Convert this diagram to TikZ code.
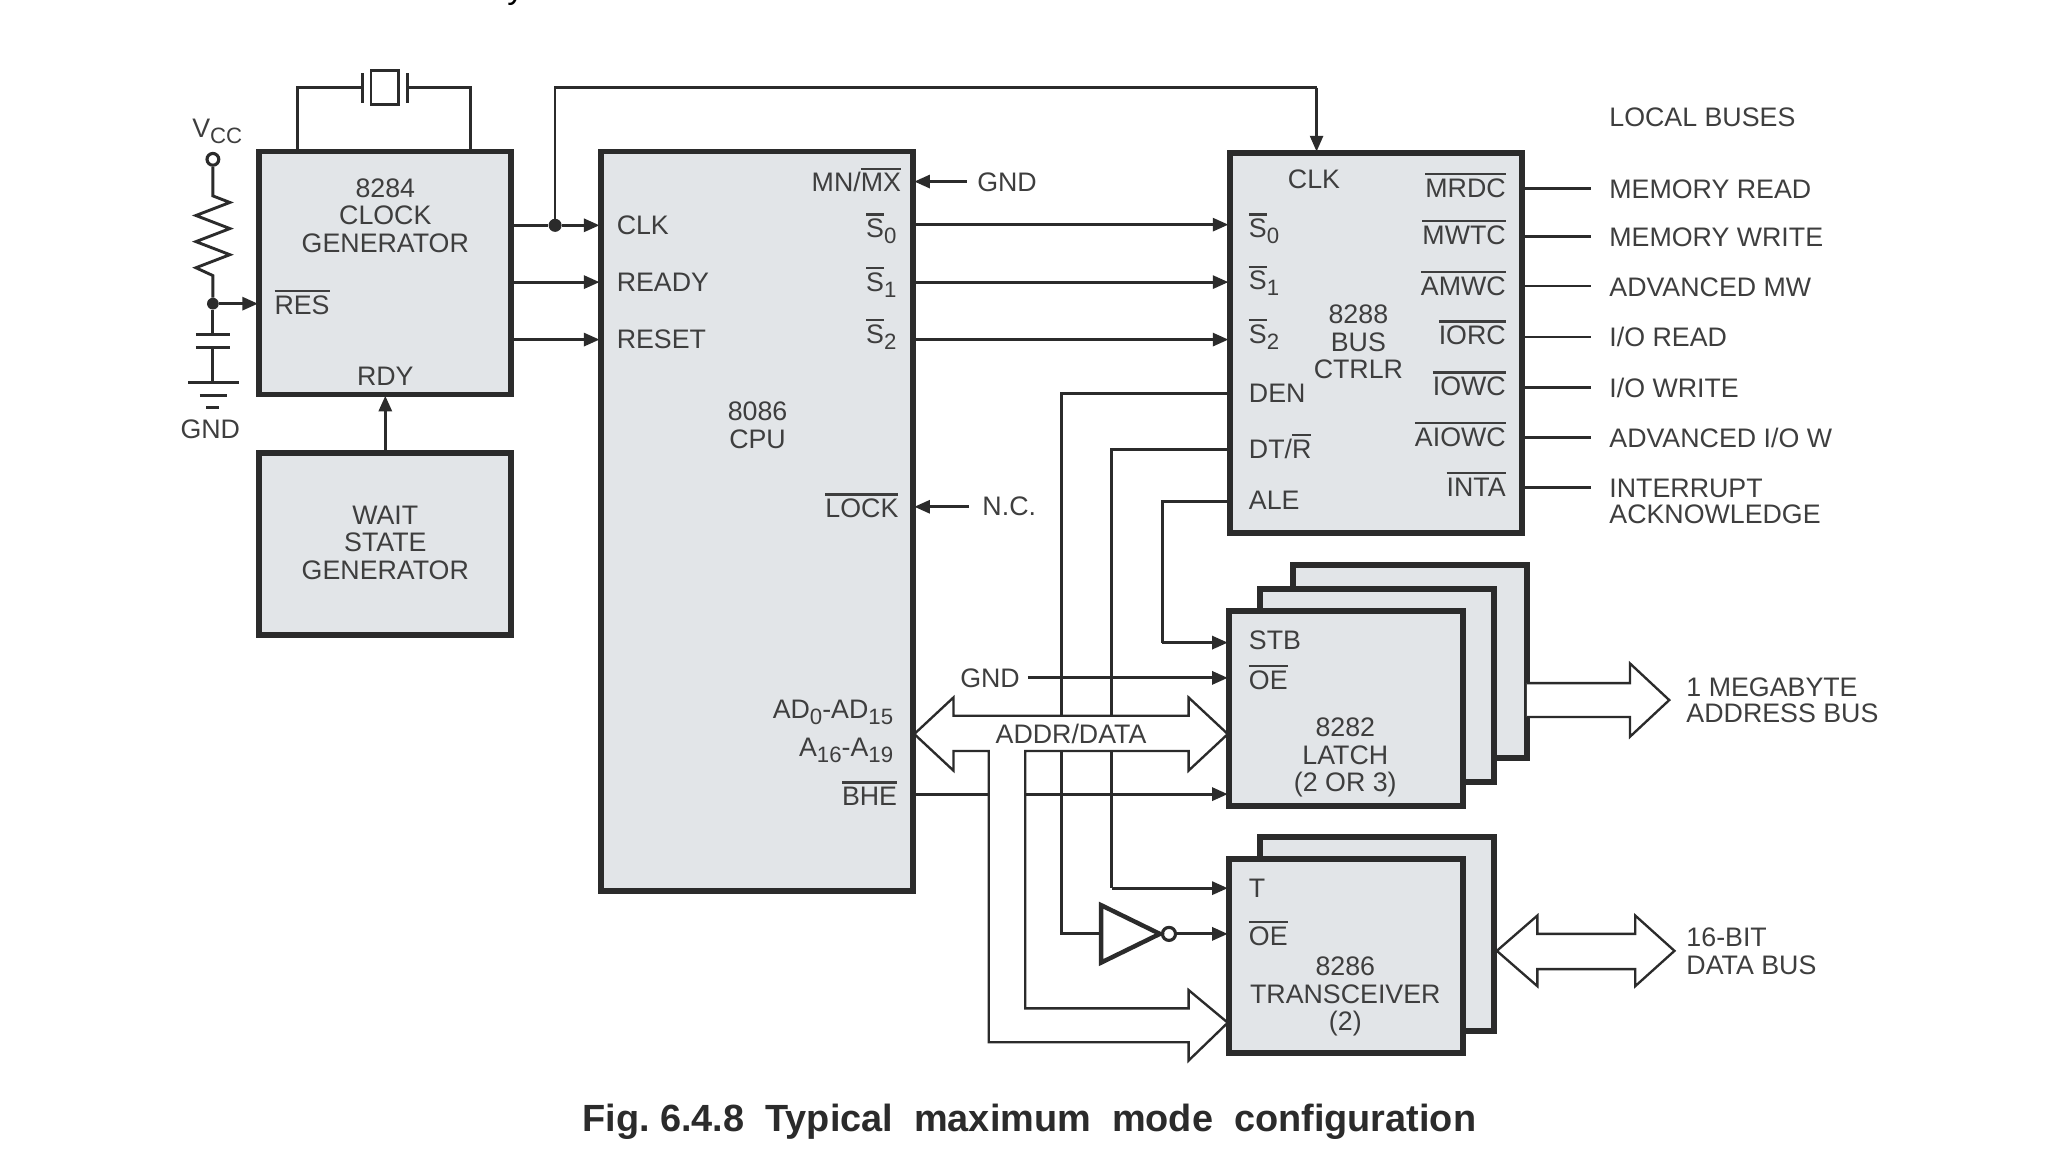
\documentclass[tikz,border=0pt]{standalone}
\usepackage{fontspec}
\setmainfont{Liberation Sans}
\usetikzlibrary{arrows.meta}
\definecolor{ink}{HTML}{2B2B2B}
\definecolor{txt}{HTML}{3E3E3E}
\definecolor{chip}{HTML}{E2E5E8}
\newcommand{\ovl}[1]{\leavevmode\setbox0\hbox{#1}\rlap{\raise 17pt\hbox{\rule{\wd0}{1.7pt}}}\box0}
\newcommand{\subx}[1]{\raisebox{-4.5pt}{\fontsize{17}{17}\selectfont #1}}
\tikzset{
  box/.style={draw=ink,fill=chip,line width=4.5pt,rectangle,inner sep=0pt,outer sep=0pt},
  wire/.style={draw=ink,line width=2.2pt},
  arr/.style={draw=ink,line width=2.2pt,-{Triangle[length=12pt,width=10pt]},shorten >=1pt},
  bus/.style={draw=ink,line width=1.8pt,fill=white,line join=miter},
  lbl/.style={text=txt,inner sep=0pt,anchor=base west,font=\fontsize{20.5}{21}\selectfont},
  lblr/.style={text=txt,inner sep=0pt,anchor=base east,font=\fontsize{20.5}{21}\selectfont},
  lblc/.style={text=txt,inner sep=0pt,anchor=center,align=center,font=\fontsize{20.5}{21}\selectfont},
  dot/.style={circle,fill=ink,inner sep=0pt,minimum size=10pt},
  ring/.style={circle,draw=ink,fill=white,line width=2.4pt,inner sep=0pt,minimum size=9pt},
}
\begin{document}
\begin{tikzpicture}[x=1pt,y=-1pt]
\useasboundingbox (0,0) rectangle (1568,882);
\fill[white] (0,0) rectangle (1568,882);
\node[text=black,inner sep=0pt,anchor=base,font=\fontsize{26}{26}\selectfont] (topy) at (395,-1) {y};
% chips
\node[box,minimum width=193pt,minimum height=186pt] (clkgen) at (295,209) {};
\node[box,minimum width=193pt,minimum height=140pt] (wait) at (295,416.5) {};
\node[box,minimum width=239pt,minimum height=566pt] (cpu) at (579.5,399) {};
\node[box,minimum width=224pt,minimum height=291pt] (ctl) at (1053.5,262.5) {};
\node[box,minimum width=179pt,minimum height=148pt] (latchc) at (1079.5,506.5) {};
\node[box,minimum width=179pt,minimum height=148pt] (latchb) at (1054.5,525) {};
\node[box,minimum width=179pt,minimum height=149pt] (latch) at (1030.5,542.5) {};
\node[box,minimum width=179pt,minimum height=149pt] (xcvb) at (1054.5,715) {};
\node[box,minimum width=179pt,minimum height=149pt] (xcv) at (1030.5,732) {};
% crystal
\node[draw=ink,line width=2pt,minimum width=21pt,minimum height=26pt,inner sep=0pt,outer sep=0pt] (xtal) at (294.5,67) {};
\coordinate (xl) at (277.5,67);
\coordinate (xr) at (312,67);
\draw[wire] (xl |- 0,56) -- (xl |- 0,79);
\draw[wire] (xr |- 0,56) -- (xr |- 0,79);
\draw[wire] (clkgen.north -| 228,0) -- (228,67) -- (xl);
\draw[wire] (clkgen.north -| 360,0) -- (360,67) -- (xr);
% Vcc network
\node[ring] (vcc) at (163,122) {};
\node[dot,minimum size=9pt] (jn) at (163,232.5) {};
\draw[wire] (vcc) -- (163,150) -- (176,155) -- (150,165) -- (176,175) -- (150,185) -- (176,195) -- (150,205) -- (163,211) -- (jn);
\draw[arr] (jn) -- (clkgen.west |- jn);
\draw[wire] (jn) -- (163,256);
\draw[wire] (150,256) -- (176,256);
\draw[wire] (150,266) -- (176,266);
\draw[wire] (163,266) -- (163,293);
\draw[wire] (144,293) -- (183,293);
\draw[wire] (153,303) -- (174,303);
\draw[wire] (158,312) -- (168,312);
% clock outputs
\node[dot] (clkdot) at (425,172.5) {};
\draw[wire] (clkgen.east |- clkdot) -- (clkdot);
\draw[arr] (clkdot) -- (cpu.west |- clkdot);
\draw[arr] (clkgen.east |- 0,216) -- (cpu.west |- 0,216);
\draw[arr] (clkgen.east |- 0,260) -- (cpu.west |- 0,260);
\draw[wire,line width=1.8pt] (clkdot) -- (425,67) -- (1008,67);
\draw[arr,line width=1.8pt] (1008,67) -- (ctl.north -| 1008,0);
\draw[arr] (wait.north) -- (clkgen.south);
% CPU to controller
\draw[arr] (cpu.east |- 0,172) -- (ctl.west |- 0,172);
\draw[arr] (cpu.east |- 0,216) -- (ctl.west |- 0,216);
\draw[arr] (cpu.east |- 0,260) -- (ctl.west |- 0,260);
\node[lbl] (gndmn) at (748,146.5) {GND};
\draw[arr] (740,139) -- (cpu.east |- 0,139);
\node[lbl] (nc) at (752,395) {N.C.};
\draw[arr] (742,388) -- (cpu.east |- 0,388);
% controller outputs
\foreach \yy in {144,181,219,258,297,335,373} {\draw[wire] (ctl.east |- 0,\yy) -- (1218,\yy);}
% control wires
\coordinate (invin) at (843,715);
\draw[wire] (ctl.west |- 0,301) -- (813,301) -- (813,715) -- (invin);
\draw[wire] (ctl.west |- 0,344) -- (851,344) -- (851,680);
\draw[arr] (851,680) -- (xcv.west |- 0,680);
\draw[wire] (ctl.west |- 0,384) -- (890,384) -- (890,492);
\draw[arr] (890,492) -- (latch.west |- 0,492);
\node[lbl] (gndoe) at (735,526) {GND};
\draw[arr] (787,519) -- (latch.west |- 0,519);
\draw[arr] (cpu.east |- 0,608) -- (latch.west |- 0,608);
% multiplexed bus
\draw[bus] (757,798) -- (757,575) -- (730,575) -- (730,590) -- (700,562) -- (730,534) -- (730,548) -- (910,548) -- (910,534) -- (940,562) -- (910,590) -- (910,575) -- (785,575) -- (785,772) -- (910,772) -- (910,758) -- (940,783) -- (910,812) -- (910,798) -- cycle;
\node[lblc] (addr) at (820,562) {ADDR/DATA};
% inverter
\node[ring,minimum size=10pt] (invo) at (895,715) {};
\draw[draw=ink,line width=3.4pt,fill=white,line join=miter] (invin |- 0,693) -- (888,715) -- (invin |- 0,737) -- cycle;
\draw[arr] (invo) -- (xcv.west |- invo);
% output buses
\draw[bus] (latchc.east |- 0,523) -- (1248,523) -- (1248,508) -- (1278,536) -- (1248,564) -- (1248,549) -- (latchc.east |- 0,549);
\draw[bus] (1146,728) -- (1177,701) -- (1177,715) -- (1252,715) -- (1252,701) -- (1282,728) -- (1252,755) -- (1252,742) -- (1177,742) -- (1177,755) -- cycle;
% labels
\node[lbl] (lvcc) at (147,105) {V\subx{CC}};
\node[lbl] (lgnd) at (138,336) {GND};
\node[lblc] (t8284) at (295,165) {8284\\CLOCK\\GENERATOR};
\node[lbl] (tres) at (210,240.5) {\ovl{RES}};
\node[lblc] (trdy) at (295,288) {RDY};
\node[lblc] (twait) at (295,415.5) {WAIT\\STATE\\GENERATOR};
\node[lbl] (tclk) at (472,179.5) {CLK};
\node[lbl] (trdyc) at (472,223.5) {READY};
\node[lbl] (trst) at (472,267) {RESET};
\node[lblr] (tmn) at (690,147) {MN/\ovl{MX}};
\node[lbl] (ts0) at (663,182) {\ovl{S}\subx{0}};
\node[lbl] (ts1) at (663,223) {\ovl{S}\subx{1}};
\node[lbl] (ts2) at (663,263) {\ovl{S}\subx{2}};
\node[lblc] (t8086) at (580,325.5) {8086\\CPU};
\node[lblr] (tlock) at (688,396.5) {\ovl{LOCK}};
\node[lblr] (tad) at (684,550) {AD\subx{0}-AD\subx{15}};
\node[lblr] (ta16) at (684,579) {A\subx{16}-A\subx{19}};
\node[lblr] (tbhe) at (687,617) {\ovl{BHE}};
\node[lblc] (tclk2) at (1006,137) {CLK};
\node[lbl] (cs0) at (956,182) {\ovl{S}\subx{0}};
\node[lbl] (cs1) at (956,222) {\ovl{S}\subx{1}};
\node[lbl] (cs2) at (956,263) {\ovl{S}\subx{2}};
\node[lbl] (tden) at (956,308) {DEN};
\node[lbl] (tdtr) at (956,351) {DT/\ovl{R}};
\node[lbl] (tale) at (956,390) {ALE};
\node[lblc] (t8288) at (1040,262) {8288\\BUS\\CTRLR};
\node[lblr] (tmrdc) at (1153,151) {\ovl{MRDC}};
\node[lblr] (tmwtc) at (1153,187) {\ovl{MWTC}};
\node[lblr] (tamwc) at (1153,226) {\ovl{AMWC}};
\node[lblr] (tiorc) at (1153,264) {\ovl{IORC}};
\node[lblr] (tiowc) at (1153,303) {\ovl{IOWC}};
\node[lblr] (taiowc) at (1153,342) {\ovl{AIOWC}};
\node[lblr] (tinta) at (1153,380) {\ovl{INTA}};
\node[lbl] (rlocal) at (1232,97) {LOCAL BUSES};
\node[lbl] (r1) at (1232,152) {MEMORY READ};
\node[lbl] (r2) at (1232,189) {MEMORY WRITE};
\node[lbl] (r3) at (1232,227) {ADVANCED MW};
\node[lbl] (r4) at (1232,265) {I/O READ};
\node[lbl] (r5) at (1232,304) {I/O WRITE};
\node[lbl] (r6) at (1232,343) {ADVANCED I/O W};
\node[lbl] (r7) at (1232,381) {INTERRUPT};
\node[lbl] (r8) at (1232,401) {ACKNOWLEDGE};
\node[lbl] (tstb) at (956,497) {STB};
\node[lbl] (toe) at (956,528) {\ovl{OE}};
\node[lblc] (t8282) at (1030,580) {8282\\LATCH\\(2 OR 3)};
\node[lbl] (tt) at (956,687) {T};
\node[lbl] (toe2) at (956,724) {\ovl{OE}};
\node[lblc] (t8286) at (1030,763) {8286\\TRANSCEIVER\\(2)};
\node[lbl] (rmeg) at (1291,533) {1 MEGABYTE};
\node[lbl] (radd) at (1291,553) {ADDRESS BUS};
\node[lbl] (r16) at (1291,725) {16-BIT};
\node[lbl] (rdat) at (1291,746) {DATA BUS};
\node[text=ink,inner sep=0pt,anchor=center,font=\bfseries\fontsize{29}{29}\selectfont] (title) at (788,859) {Fig.\ 6.4.8\ \ Typical\ \ maximum\ \ mode\ \ configuration};
\end{tikzpicture}
\end{document}
